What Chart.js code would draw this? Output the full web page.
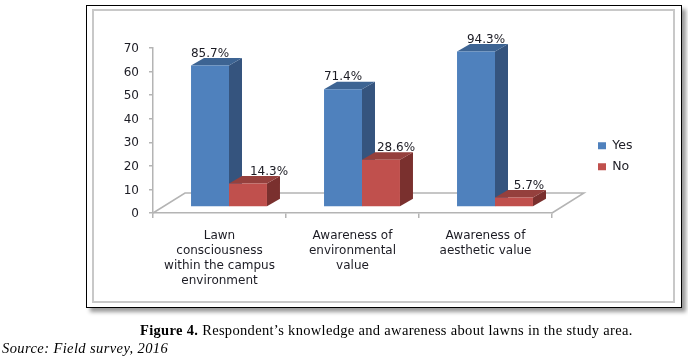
<!DOCTYPE html>
<html>
<head>
<meta charset="utf-8">
<script src="https://cdn.jsdelivr.net/npm/chart.js@4"></script>
<style>
    html, body { margin: 0; padding: 0; background: #fff; width: 688px; height: 357px; overflow: hidden; }
    #marco { position: absolute; left: 86px; top: 5px; width: 594px; height: 301px; border: 1.5px solid #000; box-shadow: 4px 4px 4px #999; background: #fff; }
    #marco-interno { position: absolute; left: 92px; top: 9px; width: 579px; height: 290px; border: 2.5px solid #c8c8c8; }
    #grafica { position: absolute; left: 0; top: 0; }
    .pie { position: absolute; font-family: "Liberation Serif", serif; color: #000; white-space: nowrap; }
    #figura { left: 140px; top: 322px; font-size: 14.5px; letter-spacing: 0.32px; }
    #fuente { left: 2px; top: 340px; font-size: 14.5px; letter-spacing: 0.4px; font-style: italic; }
</style>
</head>
<body>
<div id="marco"></div>
<div id="marco-interno"></div>
<canvas id="grafica" width="688" height="357"></canvas>
<div class="pie" id="figura"><b>Figure 4.</b> Respondent’s knowledge and awareness about lawns in the study area.</div>
<div class="pie" id="fuente">Source: Field survey, 2016</div>

<script>
// Datos
const categorias = [
    ['Lawn', 'consciousness', 'within the campus', 'environment'],
    ['Awareness of', 'environmental', 'value'],
    ['Awareness of', 'aesthetic value']
];
const valoresYes = [60, 50, 66];
const valoresNo = [10, 20, 4];
const etiquetasYes = ['85.7%', '71.4%', '94.3%'];
const etiquetasNo = ['14.3%', '28.6%', '5.7%'];

// Corrimiento horizontal de cada etiqueta respecto a su barra
const ajusteYes = [0, 0, 10];
const ajusteNo = [21, 15, 15];

// Perspectiva del falso 3D
const DX_BARRA = 9.5, DY_BARRA = -6;     // las barras se paran en medio del piso
const DX_FONDO = 13, DY_FONDO = -7.5;    // profundidad de cada barra
const DX_PISO = 32, DY_PISO = -20;       // profundidad del piso
const GRIS = '#b4b4b4';
const TEXTO = '#1c1c24';
const FUENTE = 'DejaVu Sans';

// Dibuja un polígono relleno
function poligono(ctx, puntos, color) {
    ctx.fillStyle = color;
    ctx.beginPath();
    puntos.forEach((p, i) => i ? ctx.lineTo(p[0], p[1]) : ctx.moveTo(p[0], p[1]));
    ctx.closePath();
    ctx.fill();
}

const falso3D = {
    id: 'falso3D',
    afterLayout(chart) {
        // Coloca la leyenda a la derecha, separada del área
        const leyenda = chart.legend;
        leyenda.left = 589.5;
        leyenda.right = 660;
        leyenda.top = 131;
        leyenda.bottom = 190;
    },
    beforeDatasetsDraw(chart) {
        const { ctx, chartArea: a } = chart;
        // Piso
        ctx.save();
        ctx.strokeStyle = GRIS;
        ctx.lineWidth = 1.5;
        ctx.beginPath();
        ctx.moveTo(a.left, a.bottom);
        ctx.lineTo(a.left + DX_PISO, a.bottom + DY_PISO);
        ctx.lineTo(a.right + DX_PISO, a.bottom + DY_PISO);
        ctx.lineTo(a.right, a.bottom);
        ctx.stroke();
        ctx.restore();

        // Caras laterales y superiores: primero azul, luego rojo encima
        const caras = [['#35547e', '#3d6493'], ['#7a302e', '#95403d']];
        [0, 1].forEach(d => {
            chart.getDatasetMeta(d).data.forEach(b => {
                const izq = b.x - b.width / 2 + DX_BARRA;
                const der = b.x + b.width / 2 + DX_BARRA;
                const arriba = b.y + DY_BARRA;
                const abajo = b.base + DY_BARRA;
                poligono(ctx, [[der, arriba], [der + DX_FONDO, arriba + DY_FONDO], [der + DX_FONDO, abajo + DY_FONDO], [der, abajo]], caras[d][0]);
                poligono(ctx, [[izq, arriba], [izq + DX_FONDO, arriba + DY_FONDO], [der + DX_FONDO, arriba + DY_FONDO], [der, arriba]], caras[d][1]);
            });
        });
    },
    beforeDatasetDraw(chart) {
        chart.ctx.save();
        chart.ctx.translate(DX_BARRA, DY_BARRA);
    },
    afterDatasetDraw(chart) {
        chart.ctx.restore();
    },
    afterDatasetsDraw(chart) {
        // Etiquetas de porcentaje
        const { ctx } = chart;
        ctx.save();
        ctx.font = '12px "' + FUENTE + '"';
        ctx.fillStyle = TEXTO;
        ctx.textAlign = 'center';
        ctx.textBaseline = 'middle';
        [[etiquetasYes, ajusteYes], [etiquetasNo, ajusteNo]].forEach((par, d) => {
            chart.getDatasetMeta(d).data.forEach((b, i) => {
                ctx.fillText(par[0][i], b.x + DX_BARRA + par[1][i], b.y + DY_BARRA - 12);
            });
        });
        ctx.restore();
    }
};

const grafica = new Chart(document.getElementById('grafica').getContext('2d'), {
    type: 'bar',
    data: {
        labels: categorias,
        datasets: [
            { label: 'Yes', data: valoresYes, backgroundColor: '#4f81bd', categoryPercentage: 0.571, barPercentage: 1, clip: false },
            { label: 'No', data: valoresNo, backgroundColor: '#c0504d', categoryPercentage: 0.571, barPercentage: 1, clip: false }
        ]
    },
    plugins: [falso3D],
    options: {
        responsive: false,
        animation: false,
        layout: { padding: { left: 0, top: 48, right: 80, bottom: 44 } },
        plugins: {
            title: { display: false },
            tooltip: { enabled: false },
            legend: {
                position: 'right',
                align: 'start',
                labels: {
                    boxWidth: 8,
                    boxHeight: 7,
                    padding: 8.5,
                    textAlign: 'left',
                    color: TEXTO,
                    font: { family: FUENTE, size: 12.5 }
                }
            }
        },
        scales: {
            x: {
                afterFit(escala) { escala.height = 100; },
                border: { color: GRIS, width: 1.5 },
                grid: { display: true, drawOnChartArea: false, color: GRIS, lineWidth: 1.5, tickLength: 5 },
                ticks: {
                    color: TEXTO,
                    maxRotation: 0,
                    autoSkip: false,
                    padding: 10,
                    font: { family: FUENTE, size: 12, lineHeight: 1.25 }
                }
            },
            y: {
                min: 0,
                max: 70,
                afterFit(escala) { escala.width = 153; },
                border: { color: GRIS, width: 1.5 },
                grid: { display: true, drawOnChartArea: false, color: GRIS, lineWidth: 1.5, tickLength: 4 },
                ticks: {
                    stepSize: 10,
                    color: TEXTO,
                    padding: 10,
                    labelOffset: 1,
                    font: { family: FUENTE, size: 12 }
                }
            }
        }
    }
});

// Ajusta el relleno derecho para que el área termine donde en la figura
grafica.options.layout.padding.right += grafica.chartArea.right - 552;
grafica.update();
</script>
</body>
</html>
